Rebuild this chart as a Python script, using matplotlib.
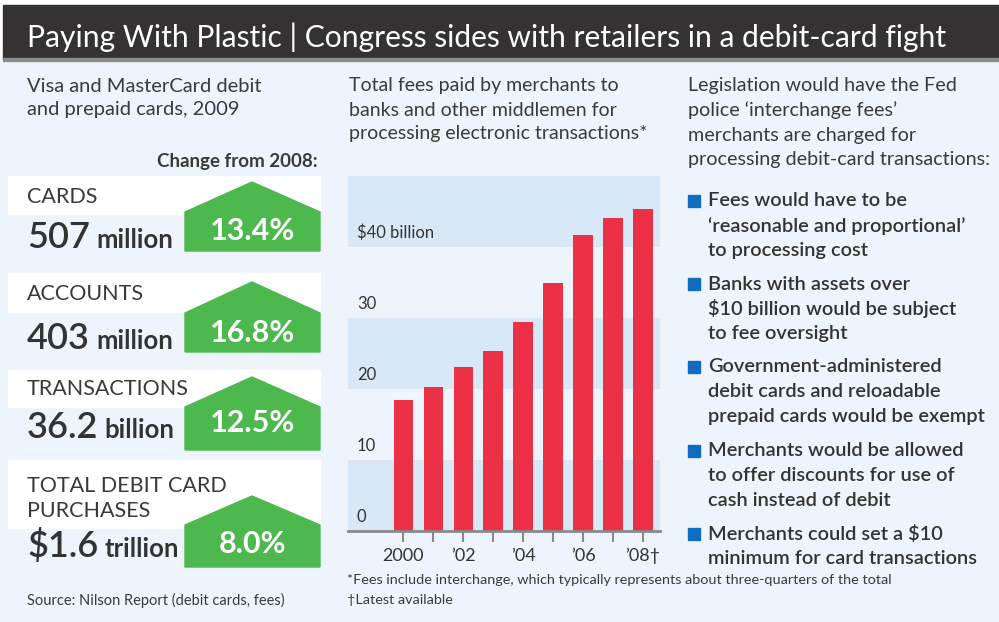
import matplotlib
matplotlib.use("Agg")
import matplotlib.pyplot as plt
from matplotlib.patches import Rectangle, Polygon
from matplotlib import font_manager

# pick a narrow face if one is installed
names = {f.name for f in font_manager.fontManager.ttflist}
NARROW = "Liberation Sans Narrow" if "Liberation Sans Narrow" in names else "Lato"
BODY = "Lato" if "Lato" in names else "DejaVu Sans"
plt.rcParams["font.family"] = [BODY, "DejaVu Sans"]

W, H = 999, 622

title = "Paying With Plastic | Congress sides with retailers in a debit-card fight"

left_intro = ["Visa and MasterCard debit", "and prepaid cards, 2009"]
change_head = "Change from 2008:"
stat_labels = ["CARDS", "ACCOUNTS", "TRANSACTIONS", "TOTAL DEBIT CARD\nPURCHASES"]
stat_numbers = ["507", "403", "36.2", "$1.6"]
stat_units = ["million", "million", "billion", "trillion"]
stat_changes = ["13.4%", "16.8%", "12.5%", "8.0%"]
source = "Source: Nilson Report (debit cards, fees)"

chart_intro = ["Total fees paid by merchants to", "banks and other middlemen for",
               "processing electronic transactions*"]
years = [2000, 2001, 2002, 2003, 2004, 2005, 2006, 2007, 2008]
fees = [18.5, 20.3, 23.1, 25.3, 29.5, 34.9, 41.7, 44.1, 45.3]
year_labels = ["2000", "", "\u201902", "", "\u201904", "", "\u201906", "", "\u201908\u2020"]
fee_ticks = [0, 10, 20, 30, 40]
fee_tick_labels = ["0", "10", "20", "30", "$40 billion"]
footnotes = ["*Fees include interchange, which typically represents about three-quarters of the total",
             "\u2020Latest available"]

right_intro = ["Legislation would have the Fed", "police \u2018interchange fees\u2019",
               "merchants are charged for", "processing debit-card transactions:"]
bullets = [
    ["Fees would have to be", "\u2018reasonable and proportional\u2019", "to processing cost"],
    ["Banks with assets over", "$10 billion would be subject", "to fee oversight"],
    ["Government-administered", "debit cards and reloadable", "prepaid cards would be exempt"],
    ["Merchants would be allowed", "to offer discounts for use of", "cash instead of debit"],
    ["Merchants could set a $10", "minimum for card transactions"],
]

BG = "#eef4fc"
BAND = "#d8e8f6"
RED = "#ec3146"
GREEN = "#4cb84e"
BLUE = "#0f6dbf"
TXT = "#3a3a3a"

fig = plt.figure(figsize=(W / 100, H / 100), dpi=100)
fig.patch.set_facecolor("white")

# full-figure canvas in pixel units
base = fig.add_axes([0, 0, 1, 1])
base.set_xlim(0, W)
base.set_ylim(H, 0)
base.axis("off")

base.add_patch(Rectangle((0, 60), W, H - 60, color=BG, zorder=0))
base.add_patch(Rectangle((3, 5), W - 3, 54, color="#343232", zorder=1))
base.add_patch(Rectangle((3, 58), W - 3, 3, color="#8a8a8a", zorder=1))
base.text(27, 37, title, color="white", fontsize=21.6, family=[NARROW, "DejaVu Sans"],
          va="center", ha="left", zorder=2)

# left panel
for i, line in enumerate(left_intro):
    base.text(27, 86 + 23 * i, line, fontsize=14.5, color=TXT, va="center")
base.text(318, 162, change_head, fontsize=13.5, color=TXT, ha="right", va="center",
          fontweight="bold")

row_top = [176, 273, 370, 460]
row_label_h = [38, 39, 37, 68]
label_base = [203, 300, 395, 517]
num_base = [248, 349, 438, 557]
roof = [(182, 212, 251), (282, 313, 352), (377, 407, 450), (496, 525, 567)]
pct_base = [240, 342, 432, 553]

fig.canvas.draw()
renderer = fig.canvas.get_renderer()
inv = base.transData.inverted()

for i in range(4):
    base.add_patch(Rectangle((8, row_top[i]), 312, row_label_h[i], color="white", zorder=1))
    base.text(27, label_base[i], stat_labels[i], fontsize=15.5, color=TXT, va="baseline",
              linespacing=1.3, zorder=3)
    t = base.text(27, num_base[i], stat_numbers[i], fontsize=26, color="#333333",
                  va="baseline", fontweight="semibold", zorder=3)
    bb = t.get_window_extent(renderer)
    x_end = inv.transform((bb.x1, bb.y0))[0]
    base.text(x_end + 6, num_base[i], stat_units[i], fontsize=18.5, color="#333333",
              va="baseline", fontweight="bold", zorder=3)
    peak, eave, bottom = roof[i]
    base.add_patch(Polygon([(185, bottom), (185, eave), (252, peak), (320, eave), (320, bottom)],
                           closed=True, color=GREEN, zorder=2))
    base.text(253, pct_base[i], stat_changes[i], fontsize=22, color="white", fontweight="bold",
              ha="center", va="baseline", zorder=3)

base.text(27, 600, source, fontsize=10.5, color=TXT, va="center")

# middle panel text
for i, line in enumerate(chart_intro):
    base.text(349, 86 + 24 * i, line, fontsize=14, color=TXT, va="center")
for i, line in enumerate(footnotes):
    base.text(347, 580 + 20 * i, line, fontsize=10.4, color=TXT, va="center")

# right panel
for i, line in enumerate(right_intro):
    base.text(688, 86 + 24.5 * i, line, fontsize=14.2, color=TXT, va="center")
bullet_top = [201, 284, 367, 451, 534]
for i, lines in enumerate(bullets):
    y0 = bullet_top[i]
    base.add_patch(Rectangle((688, y0 - 6), 12, 12, color=BLUE, zorder=2))
    for j, line in enumerate(lines):
        base.text(708, y0 + 24.8 * j, line, fontsize=14.4, color="#333333", va="center",
                  fontweight="semibold")

# bar chart
ax = fig.add_axes([348 / W, (H - 531) / H, 312 / W, 355 / H])
ax.set_facecolor("none")
for lo in (0, 20, 40):
    ax.axhspan(lo, lo + 10, color=BAND, lw=0, zorder=0)
ax.bar(range(len(years)), fees, width=0.65, color=RED, zorder=2)
ax.set_xlim(-1.85, 8.57)
ax.set_ylim(0, 50)
ax.set_xticks(range(len(years)))
ax.set_xticklabels(year_labels, fontsize=13, color="#333333")
ax.tick_params(axis="x", length=8, width=1.5, color="#8a8a8a", pad=4)
ax.set_yticks([])
for v, lab in zip(fee_ticks, fee_tick_labels):
    ax.text(-1.55, v + 2, lab, fontsize=12, color="#333333", va="center", ha="left")
for s in ("top", "left", "right"):
    ax.spines[s].set_visible(False)
ax.spines["bottom"].set_color("#8a8a8a")
ax.spines["bottom"].set_linewidth(2)
ax.spines["bottom"].set_zorder(3)

fig.savefig("out.png", dpi=100)
